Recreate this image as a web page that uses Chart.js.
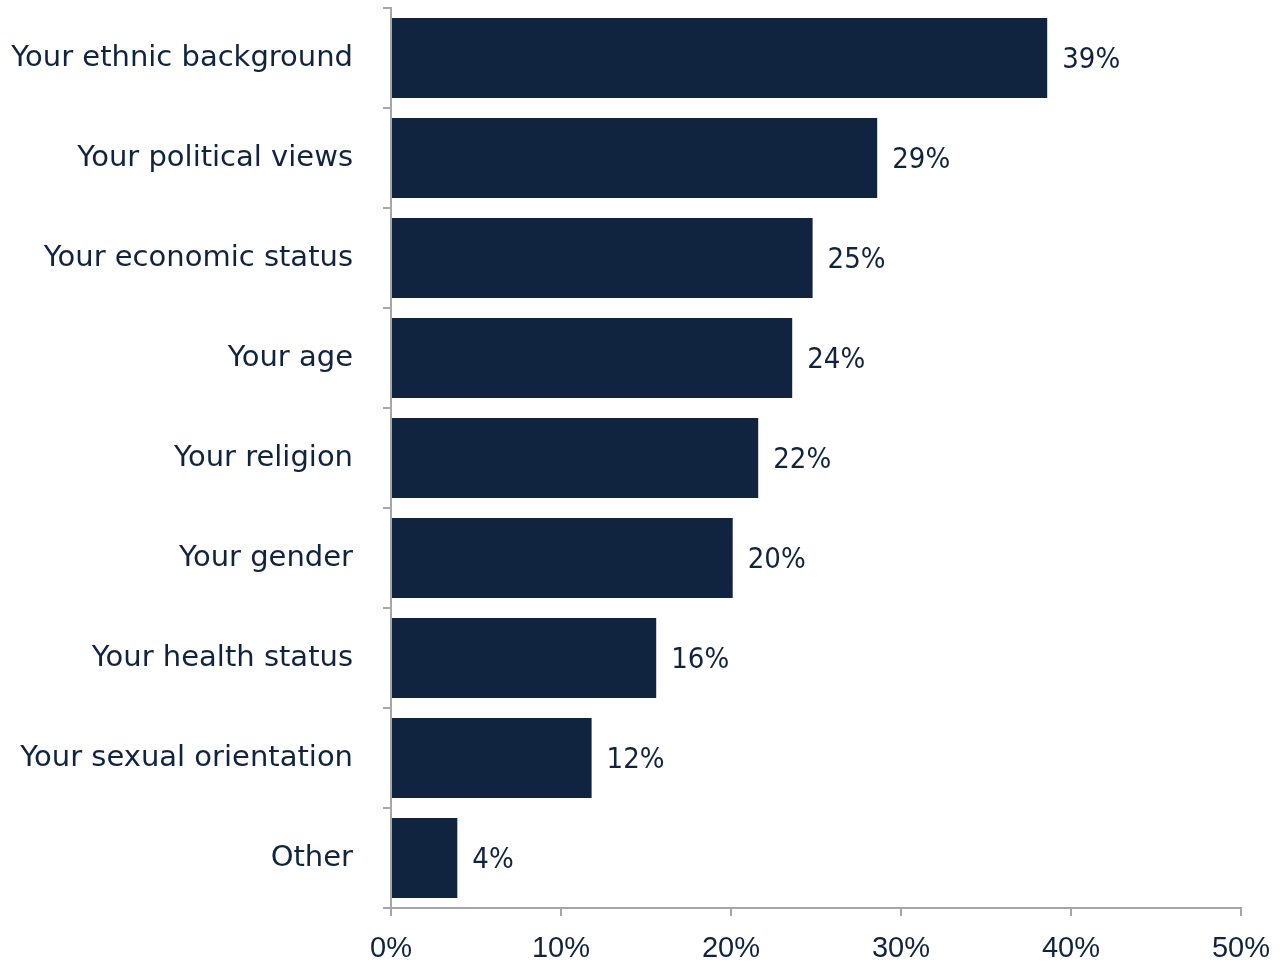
<!DOCTYPE html>
<html lang="en">
<head>
  <meta charset="UTF-8" />
  <title>Discrimination reasons</title>
  <script src="https://cdn.jsdelivr.net/npm/chart.js"></script>
  <style>
    html, body { margin: 0; padding: 0; background: #fff; }
    .wrap { width: 1288px; height: 965px; position: relative; }
  </style>
</head>
<body>

<div class="wrap"><canvas id="chart"></canvas></div>

<script>
  const categories = [
    "Your ethnic background", "Your political views", "Your economic status",
    "Your age", "Your religion", "Your gender", "Your health status",
    "Your sexual orientation", "Other"
  ];
  const shares = [38.6, 28.6, 24.8, 23.6, 21.6, 20.1, 15.6, 11.8, 3.9];
  const tickValues = [0, 10, 20, 30, 40, 50];

  const navy = "#10233f";
  const axisGrey = "#a6a6a6";

  const barLabels = {
    id: "barLabels",
    afterDatasetsDraw(chart) {
      const ctx = chart.ctx;
      const meta = chart.getDatasetMeta(0);
      ctx.save();
      ctx.fillStyle = navy;
      ctx.font = "29px 'DejaVu Sans Condensed', 'DejaVu Sans', sans-serif";
      ctx.textBaseline = "middle";
      ctx.textAlign = "left";
      meta.data.forEach((bar, i) => {
        ctx.fillText(Math.round(shares[i]) + "%", bar.x + 15, bar.y + 2);
      });
      ctx.restore();
    }
  };

  new Chart(document.getElementById("chart"), {
    type: "bar",
    data: {
      labels: categories,
      datasets: [{
        data: shares,
        backgroundColor: navy,
        barPercentage: 0.8,
        categoryPercentage: 1.0
      }]
    },
    options: {
      indexAxis: "y",
      responsive: true,
      maintainAspectRatio: false,
      animation: false,
      layout: { padding: { top: 8, right: 47, left: 0, bottom: 0 } },
      plugins: { legend: { display: false }, tooltip: { enabled: false } },
      scales: {
        x: {
          min: 0, max: 50,
          afterBuildTicks: s => { s.ticks = tickValues.map(v => ({ value: v })); },
          afterFit: s => { s.height = 57; },
          border: { color: axisGrey, width: 2 },
          grid: { drawOnChartArea: false, color: axisGrey, tickLength: 8, lineWidth: 2 },
          ticks: {
            color: navy,
            padding: 16,
            font: { family: "'Liberation Sans', Arial, sans-serif", size: 29 },
            callback: v => v + "%"
          }
        },
        y: {
          afterFit: s => { s.width = 391; s.paddingTop = 0; s.paddingBottom = 0; },
          border: { color: axisGrey, width: 2 },
          grid: { drawOnChartArea: false, color: axisGrey, tickLength: 8, lineWidth: 2 },
          ticks: {
            color: navy,
            padding: 30,
            font: { family: "'DejaVu Sans', sans-serif", size: 29 }
          }
        }
      }
    },
    plugins: [barLabels]
  });
</script>

</body>
</html>
